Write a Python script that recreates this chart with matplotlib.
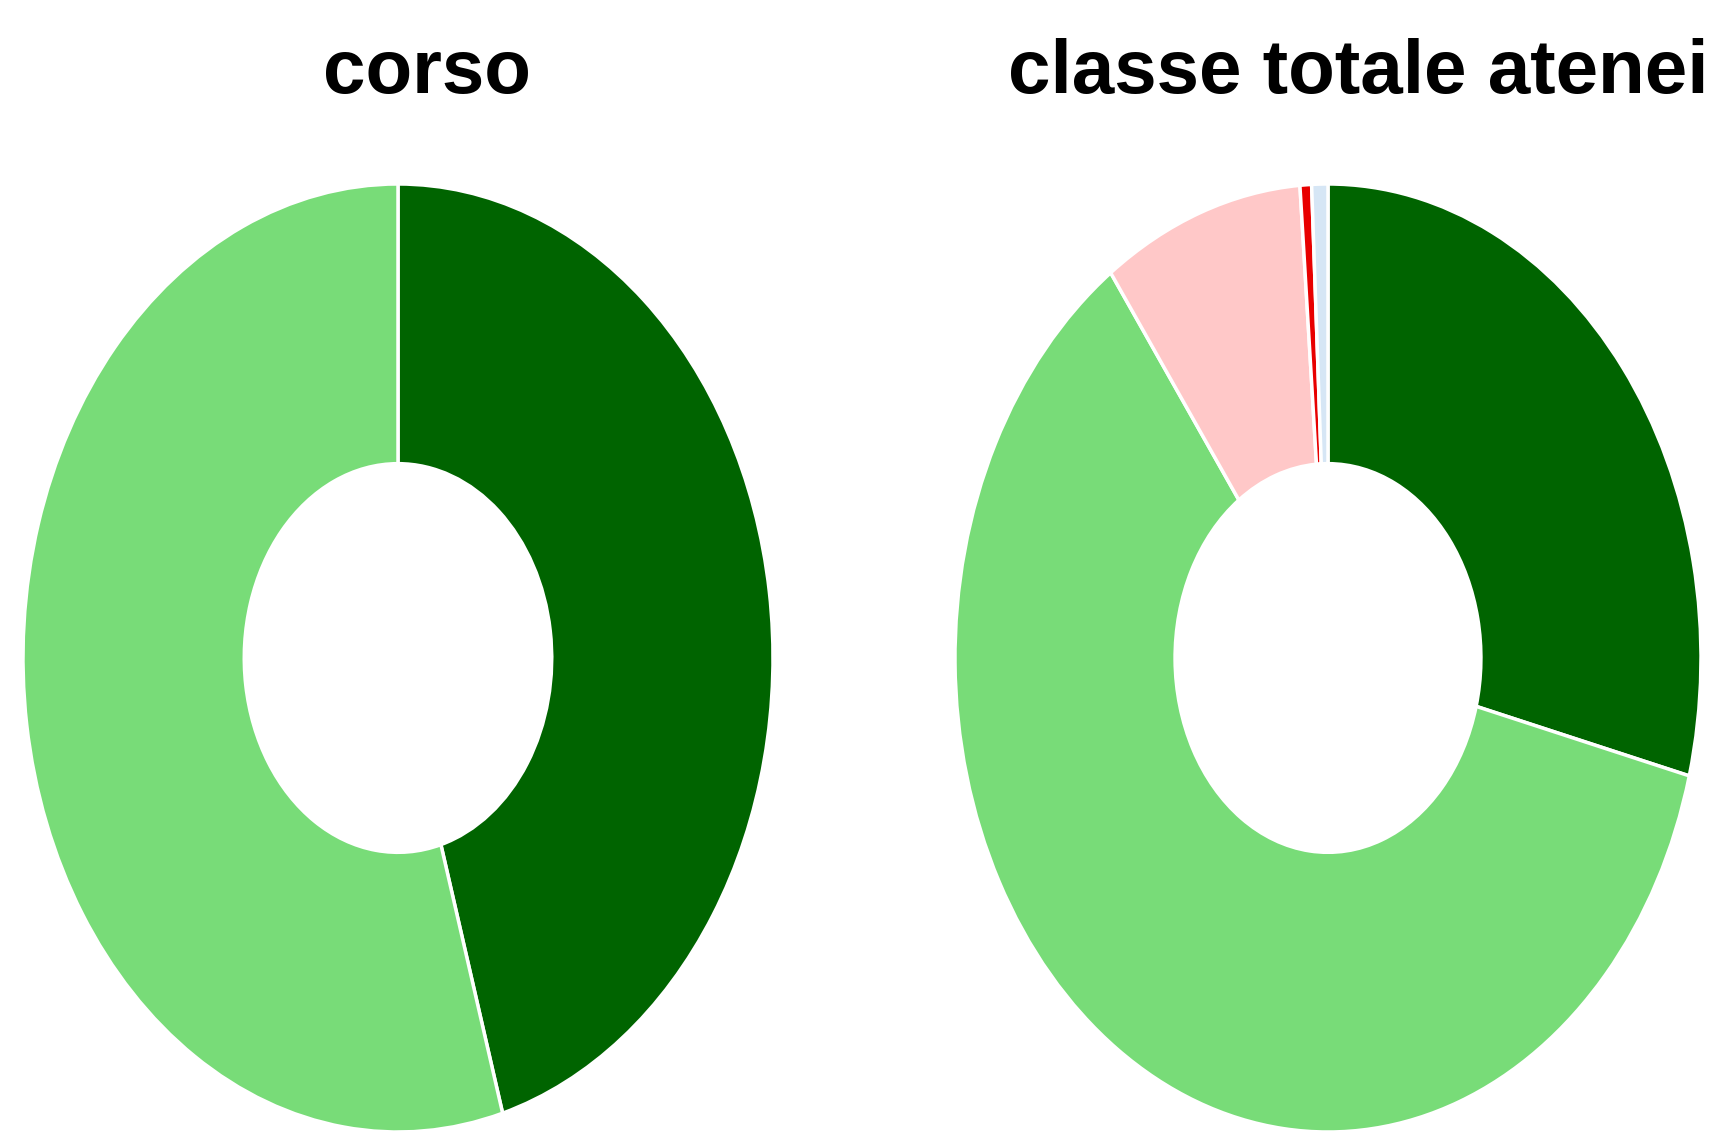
import matplotlib
matplotlib.use("Agg")
import matplotlib.pyplot as plt

# ========================================================
# Data (percent shares, clockwise from 12 o'clock)
# ========================================================
titles = ["corso", "classe totale atenei"]
corso_values = [45.5, 54.5]
corso_colors = ["#006400", "#78DC78"]
classe_values = [29.0, 61.1, 8.7, 0.5, 0.7]
classe_colors = ["#006400", "#78DC78", "#FFC8C8", "#E80000", "#D6E6F5"]

# ========================================================
# Figure: two stretched donuts (aspect auto -> ellipses)
# ========================================================
W, H = 1716, 1138
fig = plt.figure(figsize=(W / 100, H / 100), dpi=100)

def donut(ax, values, colors):
    ax.pie(values, colors=colors, startangle=90, counterclock=False,
           radius=1.0,
           wedgeprops=dict(width=0.59, edgecolor="white", linewidth=2.5))
    ax.set_aspect("auto")
    ax.set_xlim(-1.0, 1.0)
    ax.set_ylim(-1.0, 1.0)
    ax.axis("off")

# axes positions in pixel terms: centre x, radius x, centre y, radius y
ax_l = fig.add_axes([(398 - 375) / W, (H - 658 - 474) / H, 750 / W, 948 / H])
donut(ax_l, corso_values, corso_colors)

ax_r = fig.add_axes([(1328 - 373) / W, (H - 658 - 474) / H, 746 / W, 948 / H])
donut(ax_r, classe_values, classe_colors)

title_font = ["Liberation Sans", "DejaVu Sans"]
fig.text(427 / W, 1 - 93 / H, titles[0], ha="center", va="baseline",
         fontsize=55, fontweight="bold", family=title_font)
fig.text(1358 / W, 1 - 93 / H, titles[1], ha="center", va="baseline",
         fontsize=55, fontweight="bold", family=title_font)

fig.savefig("out.png", dpi=100, facecolor="white")
